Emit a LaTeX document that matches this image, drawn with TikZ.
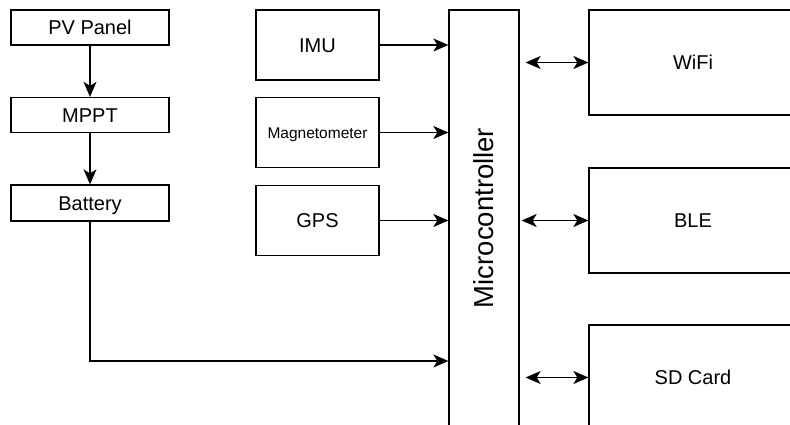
\documentclass[tikz,border=0pt]{standalone}
\usepackage{fontspec}
\setmainfont{Liberation Sans}
\usetikzlibrary{arrows.meta}
\begin{document}
\begin{tikzpicture}[x=1pt,y=-1pt,
  tip/.tip={Stealth[length=15pt,width=13pt,inset=4pt]},
  blk/.style={draw,line width=1.3pt,inner sep=0pt,anchor=center,
    text height=14.3pt,text depth=0pt,
    font=\fontsize{20}{24}\selectfont},
  flow/.style={line width=1.3pt,-tip},
  link/.style={line width=1.3pt,tip-tip}]
  \useasboundingbox (0,0) rectangle (790,425);

  % power chain
  \node[blk,minimum width=158pt,minimum height=35pt] (pv)  at (90,27.5) {PV Panel};
  \node[blk,minimum width=158pt,minimum height=35pt] (mppt) at (90,115) {MPPT};
  \node[blk,minimum width=158pt,minimum height=36pt] (bat) at (90,203) {Battery};

  % sensors
  \node[blk,minimum width=123pt,minimum height=70pt] (imu) at (317.5,45) {IMU};
  \node[blk,minimum width=123pt,minimum height=70pt,text height=11.1pt,font=\fontsize{15.5}{18}\selectfont] (mag) at (317.5,132.5) {Magnetometer};
  \node[blk,minimum width=123pt,minimum height=70pt] (gps) at (317.5,220.5) {GPS};

  % controller
  \node[blk,minimum width=70pt,minimum height=416pt] (mcu) at (484,218) {};
  \node[rotate=90,font=\fontsize{27.5}{32}\selectfont] (mculbl) at (mcu.center) {Microcontroller};

  % peripherals
  \node[blk,minimum width=208pt,minimum height=105pt] (wifi) at (693,62.5) {WiFi};
  \node[blk,minimum width=208pt,minimum height=105pt] (ble) at (693,220.5) {BLE};
  \node[blk,minimum width=208pt,minimum height=105pt] (sd) at (693,377.5) {SD Card};

  % connections
  \draw[flow] (pv) -- (mppt);
  \draw[flow] (mppt) -- (bat);
  \draw[flow] (imu.east) -- (imu.east -| mcu.west);
  \draw[flow] (mag.east) -- (mag.east -| mcu.west);
  \draw[flow] (gps.east) -- (gps.east -| mcu.west);
  \coordinate (batin) at (mcu.west |- 0,361);
  \draw[flow] (bat.south) |- (batin);

  \draw[link,shorten <=6pt] (wifi.west -| mcu.east) -- (wifi.west);
  \draw[link,shorten <=2pt] (ble.west -| mcu.east) -- (ble.west);
  \draw[link,shorten <=6pt] (sd.west -| mcu.east) -- (sd.west);
\end{tikzpicture}
\end{document}
